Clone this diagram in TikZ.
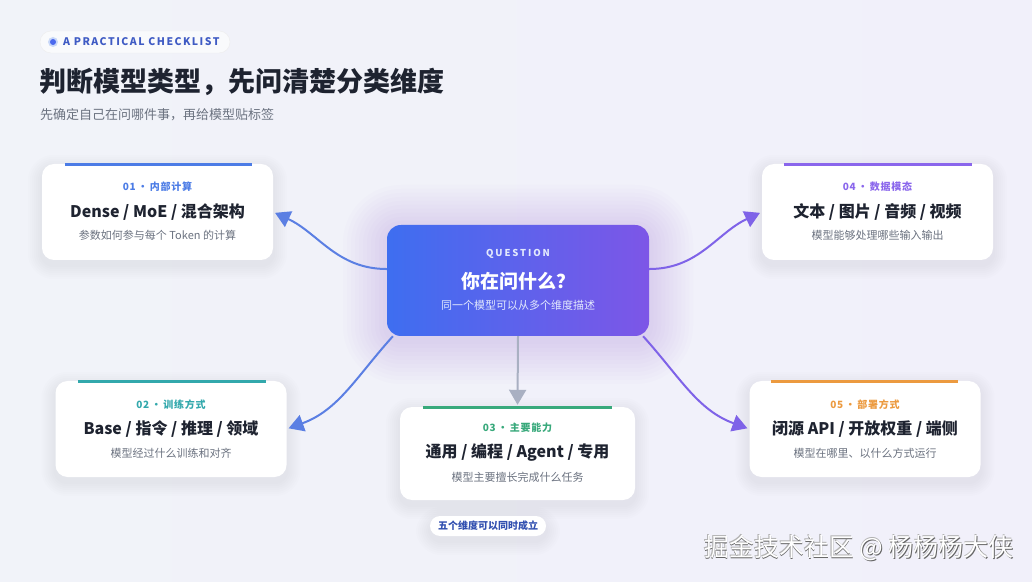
\documentclass[tikz,border=0pt]{standalone}
\usepackage{fontspec}
\setmainfont{Noto Sans CJK SC}
\newfontfamily\spacedfont{Noto Sans CJK SC}[LetterSpace=14]
\newfontfamily\tagfont{Noto Sans CJK SC}[LetterSpace=8]
\newfontfamily\widefont{Noto Sans CJK SC}[LetterSpace=20]
\usetikzlibrary{arrows.meta,positioning,calc}

\definecolor{ink}{HTML}{1E2330}
\definecolor{muted}{HTML}{6B7280}
\definecolor{bgleft}{HTML}{F1F3F9}
\definecolor{bgright}{HTML}{F1F0FA}
\definecolor{pilltext}{HTML}{3F5BC4}
\definecolor{dimblue}{HTML}{4C7CE6}
\definecolor{dimteal}{HTML}{32A8AC}
\definecolor{dimgreen}{HTML}{38A97B}
\definecolor{dimpurple}{HTML}{8A66EC}
\definecolor{dimorange}{HTML}{EC9A3F}
\definecolor{qleft}{HTML}{3E6EF0}
\definecolor{qright}{HTML}{7D56E7}
\definecolor{linkblue}{HTML}{5B7FE3}
\definecolor{linkpurple}{HTML}{7F63E8}
\definecolor{linkgray}{HTML}{A9B0C2}
\definecolor{tagblue}{HTML}{3250B0}

\pgfdeclarelayer{bg}
\pgfsetlayers{bg,main}

\begin{document}
\begin{tikzpicture}[x=1pt,y=1pt,node distance=24pt,on grid]
        \tikzstyle{card}=[fill=white, rounded corners=12pt, minimum width=231pt, minimum height=96pt]
        \tikzstyle{tag}=[inner sep=0pt, font=\tagfont\bfseries\fontsize{10}{12}\selectfont]
        \tikzstyle{head}=[inner sep=0pt, text=ink, font=\bfseries\fontsize{16}{19}\selectfont]
        \tikzstyle{note}=[inner sep=0pt, text=muted, font=\fontsize{11}{13}\selectfont]
        \tikzstyle{accent}=[line width=3pt]
        \tikzstyle{link}=[line width=2pt, -{Triangle[length=15pt,width=17pt]}, shorten >=2pt]

        \useasboundingbox (0,0) rectangle (1032,581);
        \begin{pgfonlayer}{bg}
          \shade[left color=bgleft, right color=bgright] (0,0) rectangle (1032,581);
          \foreach \g in {44,40,...,4}
            \fill[qright, opacity=0.014, rounded corners=14pt+\g]
              (387-\g,245-\g-4) rectangle (649+\g,356+\g-4);
        \end{pgfonlayer}

        % header
        \node[draw=black!7, fill=white!55!bgleft, rounded corners=11pt,
              minimum width=190pt, minimum height=22pt] (pill) at (135,539) {};
        \fill[dimblue!30] (53,539) circle (5pt);
        \fill[qleft!80!qright] (53,539) circle (3pt);
        \node[inner sep=0pt, anchor=west, text=pilltext,
              font=\spacedfont\bfseries\fontsize{10.5}{12}\selectfont] (pilltxt) at (63,539) {A PRACTICAL CHECKLIST};
        \node[inner sep=0pt, anchor=west, text=ink,
              font=\bfseries\fontsize{27}{32}\selectfont] (title) at (39,499) {判断模型类型，先问清楚分类维度};
        \node[inner sep=0pt, anchor=west, text=muted,
              font=\fontsize{13}{16}\selectfont] (subtitle) at (40,466) {先确定自己在问哪件事，再给模型贴标签};

        % centre
        \node[rounded corners=14pt, left color=qleft, right color=qright,
              minimum width=262pt, minimum height=111pt] (q) at (518,300.5) {};
        \node[inner sep=0pt, text=white!85!qleft, font=\widefont\bfseries\fontsize{9.5}{11}\selectfont]
              (qlabel) at (518,327) {QUESTION};
        \node[inner sep=0pt, text=white, font=\bfseries\fontsize{19}{22}\selectfont]
              (qhead) at (518,300) {你在问什么？};
        \node[inner sep=0pt, text=white!85!qleft, font=\fontsize{11}{13}\selectfont]
              (qnote) at (518,276) {同一个模型可以从多个维度描述};

        % 01
        \node[card] (C1) at (157.5,369) {};
        \draw[accent, dimblue] ($(C1.north west)+(23,-1)$) -- ($(C1.north east)+(-21,-1)$);
        \node[head] (H1) at (C1.center) {Dense / MoE / 混合架构};
        \node[tag, text=dimblue, above=25pt of H1] (T1) {01\hspace{2pt}·\hspace{2pt}内部计算};
        \node[note, below=23pt of H1] (N1) {参数如何参与每个 Token 的计算};

        % 02
        \node[card] (C2) at (171,152) {};
        \draw[accent, dimteal] ($(C2.north west)+(23,-1)$) -- ($(C2.north east)+(-21,-1)$);
        \node[head] (H2) at (C2.center) {Base / 指令 / 推理 / 领域};
        \node[tag, text=dimteal, above=24pt of H2] (T2) {02\hspace{2pt}·\hspace{2pt}训练方式};
        \node[note, below=24pt of H2] (N2) {模型经过什么训练和对齐};

        % 03
        \node[card, minimum width=235pt, minimum height=93pt] (C3) at (517.5,127.5) {};
        \draw[accent, dimgreen] ($(C3.north west)+(23,-1)$) -- ($(C3.north east)+(-23,-1)$);
        \node[head] (H3) at (517.5,129) {通用 / 编程 / Agent / 专用};
        \node[tag, text=dimgreen, above=24pt of H3] (T3) {03\hspace{2pt}·\hspace{2pt}主要能力};
        \node[note, below=25pt of H3] (N3) {模型主要擅长完成什么任务};

        % 04
        \node[card] (C4) at (877.5,369) {};
        \draw[accent, dimpurple] ($(C4.north west)+(22,-1)$) -- ($(C4.north east)+(-21,-1)$);
        \node[head] (H4) at (C4.center) {文本 / 图片 / 音频 / 视频};
        \node[tag, text=dimpurple, above=25pt of H4] (T4) {04\hspace{2pt}·\hspace{2pt}数据模态};
        \node[note, below=23pt of H4] (N4) {模型能够处理哪些输入输出};

        % 05
        \node[card] (C5) at (865,152) {};
        \draw[accent, dimorange] ($(C5.north west)+(22,-1)$) -- ($(C5.north east)+(-23,-1)$);
        \node[head] (H5) at (C5.center) {闭源 API / 开放权重 / 端侧};
        \node[tag, text=dimorange, above=24pt of H5] (T5) {05\hspace{2pt}·\hspace{2pt}部署方式};
        \node[note, below=24pt of H5] (N5) {模型在哪里、以什么方式运行};

        % footer
        \node[fill=white, rounded corners=10pt, minimum width=116pt, minimum height=20pt, inner sep=0pt,
              text=tagblue, font=\bfseries\fontsize{10}{12}\selectfont] (both) at (488,55) {五个维度可以同时成立};
        \node[inner sep=0pt, text=black!30, font=\fontsize{25}{30}\selectfont] (markhi) at (858.4,33.6) {掘金技术社区 @ 杨杨杨大侠};
        \node[inner sep=0pt, text=black!60, font=\fontsize{25}{30}\selectfont] (markshade) at (859.8,32.2) {掘金技术社区 @ 杨杨杨大侠};
        \node[inner sep=0pt, text=white, font=\fontsize{25}{30}\selectfont] (mark) at (859,33) {掘金技术社区 @ 杨杨杨大侠};

        \begin{pgfonlayer}{bg}
          % soft card shadows
          \foreach \c in {C1,C2,C3,C4,C5,both}
            \foreach \g in {14,12,...,2}
              \fill[black, opacity=0.009, rounded corners=12pt+\g]
                ($(\c.south west)+(-\g,-\g-5)$) rectangle ($(\c.north east)+(\g,\g-5)$);
        \path[link]
                  (q.175) edge [out=180, in=-25, draw=linkblue]   (C1.east)
                  (q.204) edge [out=228, in=20,  draw=linkblue]   (C2.east)
                  (q.south) edge [draw=linkgray]                  (C3.north)
                  (q.5)   edge [out=0,   in=205, draw=linkpurple] (C4.west)
                  (q.-24) edge [out=-48, in=160, draw=linkpurple] (C5.west);
        \end{pgfonlayer}
\end{tikzpicture}
\end{document}
